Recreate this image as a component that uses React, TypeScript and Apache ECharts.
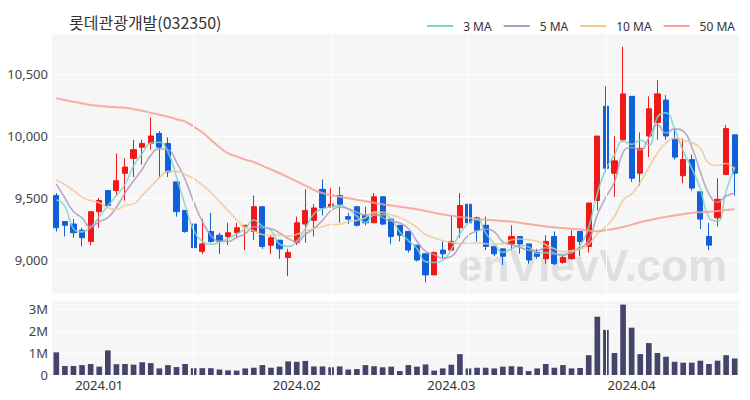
import React, { useEffect, useRef } from "react";
import * as echarts from "echarts";

const title = "롯데관광개발(032350)";
const dates = [
  "2023-12-21","2023-12-22","2023-12-26","2023-12-27","2023-12-28",
  "2024-01-02","2024-01-03","2024-01-04","2024-01-05","2024-01-08","2024-01-09","2024-01-10","2024-01-11","2024-01-12",
  "2024-01-15","2024-01-16","2024-01-17","2024-01-18","2024-01-19","2024-01-22","2024-01-23","2024-01-24","2024-01-25",
  "2024-01-26","2024-01-29","2024-01-30","2024-01-31",
  "2024-02-01","2024-02-02","2024-02-05","2024-02-06","2024-02-07","2024-02-08","2024-02-13","2024-02-14","2024-02-15",
  "2024-02-16","2024-02-19","2024-02-20","2024-02-21","2024-02-22","2024-02-23","2024-02-26","2024-02-27","2024-02-28","2024-02-29",
  "2024-03-04","2024-03-05","2024-03-06","2024-03-07","2024-03-08","2024-03-11","2024-03-12","2024-03-13","2024-03-14","2024-03-15",
  "2024-03-18","2024-03-19","2024-03-20","2024-03-21","2024-03-22","2024-03-25","2024-03-26","2024-03-27","2024-03-28","2024-03-29",
  "2024-04-01","2024-04-02","2024-04-03","2024-04-04","2024-04-05","2024-04-08","2024-04-09","2024-04-11","2024-04-12",
  "2024-04-15","2024-04-16","2024-04-17","2024-04-18","2024-04-19",
];
const labelIndices = [5, 28, 46, 67];
const vLineIndices = [16, 32, 48, 64];

const opens = [
  9520,9310,9290,9240,9150,9390,9560,9560,9700,9820,
  9910,9940,10020,9940,9630,9400,9290,9070,9230,9200,
  9190,9220,9270,9230,9430,9120,9160,9020,9140,9290,
  9320,9570,9430,9520,9350,9430,9360,9300,9510,9330,
  9280,9230,9120,9050,8880,9080,9080,9260,9450,9340,
  9280,9110,9090,9130,9190,9130,9060,9010,9190,8980,
  9010,9230,9110,9480,10240,9700,9970,10320,9700,10000,
  10110,10290,9980,9680,9810,9550,9190,9340,9690,10010,
];
const closes = [
  9260,9280,9220,9180,9390,9480,9440,9640,9750,9890,
  9940,10000,9910,9710,9390,9230,9100,9130,9150,9150,
  9220,9260,9280,9430,9110,9180,9090,9060,9300,9400,
  9420,9420,9450,9450,9330,9280,9300,9510,9290,9190,
  9200,9080,9000,8880,9060,9050,9150,9440,9300,9240,
  9110,9050,9030,9190,9130,9000,9030,9150,8970,9020,
  9190,9150,9460,10000,9740,9800,10340,9660,9900,10220,
  10340,10000,9830,9810,9580,9330,9120,9490,10060,9700,
];
const lows = [
  9230,9190,9180,9110,9120,9260,9420,9520,9480,9670,
  9770,9890,9670,9670,9350,9220,9090,9050,9140,9050,
  9120,9180,9080,9160,9090,9050,9010,8870,9120,9140,
  9190,9360,9420,9300,9290,9270,9280,9300,9280,9130,
  9150,9060,8990,8820,8880,9010,9080,9180,9280,9150,
  9080,9030,8960,9080,9050,8970,9010,8970,8960,8970,
  9000,9030,9060,9400,9710,9510,9950,9630,9600,9830,
  9970,9970,9810,9620,9560,9250,9080,9270,9690,9520,
];
const highs = [
  9540,9310,9330,9260,9390,9500,9560,9860,9820,9970,
  9970,10150,10040,9990,9630,9400,9290,9330,9380,9220,
  9300,9300,9280,9520,9430,9200,9160,9090,9350,9570,
  9450,9650,9580,9590,9380,9430,9430,9540,9510,9330,
  9280,9230,9120,9050,9070,9150,9360,9540,9450,9350,
  9350,9110,9090,9280,9190,9130,9090,9200,9230,9040,
  9240,9230,9460,10000,10400,10000,10720,10320,10030,10320,
  10450,10330,10050,9980,9850,9550,9300,9660,10090,10010,
];
// closes before the first visible day (only used for the moving averages)
const priorCloses = [9650, 9700, 9720, 9680, 9640, 9850, 9760, 9440, 9760];
const volumes = [
  1030000,410000,410000,450000,500000,380000,1120000,490000,500000,470000,
  580000,540000,300000,450000,360000,500000,310000,310000,310000,250000,
  210000,200000,300000,330000,450000,330000,380000,620000,600000,640000,
  390000,390000,350000,390000,250000,270000,450000,400000,350000,380000,
  180000,450000,380000,480000,200000,300000,470000,950000,300000,330000,
  330000,300000,380000,400000,380000,180000,300000,500000,330000,450000,
  300000,320000,900000,2650000,2050000,1000000,3200000,2150000,950000,1450000,
  1000000,830000,600000,560000,560000,650000,500000,650000,900000,750000,
];
const ma50 = [
  10304,10290,10277,10263,10250,10243,10236,10232,10228,10216,
  10204,10188,10172,10156,10136,10116,10075,10030,9970,9910,
  9860,9835,9810,9790,9760,9730,9700,9668,9635,9600,
  9565,9540,9524,9510,9498,9486,9474,9462,9450,9440,
  9430,9420,9410,9396,9382,9368,9357,9348,9340,9330,
  9325,9320,9315,9310,9300,9290,9280,9270,9264,9258,
  9252,9246,9238,9232,9240,9252,9266,9285,9305,9320,
  9335,9348,9360,9370,9380,9386,9390,9396,9403,9409,
];

const maNames = ["3 MA", "5 MA", "10 MA", "50 MA"];
const maColors = ["#7fd5c6", "#ab9bc0", "#f0c890", "#f6a193"];
const upColor = "#f01818";
const downColor = "#1060dc";
const volColor = "#45456c";
const plotBg = "#f6f6f6";
const font = "'Noto Sans', 'Noto Sans CJK KR', sans-serif";
// legend line icon: a 26x2 bar plus an empty gap on its right
const legendIcon = "path://M0,0H26V2H0Z M31,0L31,2";

function movingAverage(n: number): number[] {
  const all = [...priorCloses, ...closes];
  const off = priorCloses.length;
  return closes.map((_, i) => {
    let s = 0;
    for (let k = 0; k < n; k++) s += all[off + i - k];
    return Math.round(s / n);
  });
}

export default function App() {
  const ref = useRef<HTMLDivElement>(null);
  useEffect(() => {
    if (!ref.current) return;
    const chart = echarts.init(ref.current, null, { renderer: "svg" });
    const candleData = opens.map((o, i) => [o, closes[i], lows[i], highs[i]]);
    const maData = [movingAverage(3), movingAverage(5), movingAverage(10), ma50];
    const vLines = vLineIndices.map((i) => ({ xAxis: dates[i] }));
    const markLineStyle = {
      silent: true,
      symbol: "none",
      label: { show: false },
      lineStyle: { color: "#ffffff", width: 1, type: "solid" as const },
      data: vLines,
    };
    chart.setOption({
      animation: false,
      backgroundColor: "#ffffff",
      title: {
        text: title,
        left: 64,
        top: 9,
        textStyle: { fontSize: 16, fontWeight: "normal", color: "#333", fontFamily: "'Noto Sans CJK KR', sans-serif" },
      },
      legend: {
        data: maNames,
        right: 10,
        top: 15,
        itemWidth: 31,
        itemHeight: 2,
        itemGap: 12,
        icon: legendIcon,
        textStyle: { fontSize: 12, color: "#333", fontFamily: font },
      },
      graphic: [
        {
          type: "text",
          left: 458,
          top: 243,
          z: 1,
          silent: true,
          style: {
            text: "enVievV.com",
            fontSize: 44,
            fontWeight: "bold",
            fontFamily: "'Liberation Sans', Arial, sans-serif",
            fill: "rgba(195,195,195,0.45)",
          },
        },
      ],
      grid: [
        { left: 52, right: 11, top: 33, height: 261, show: true, backgroundColor: plotBg, borderWidth: 0 },
        { left: 52, right: 11, top: 300, height: 75, show: true, backgroundColor: plotBg, borderWidth: 0 },
      ],
      xAxis: [
        {
          type: "category",
          data: dates,
          gridIndex: 0,
          boundaryGap: true,
          axisLine: { show: false },
          axisTick: { show: false },
          axisLabel: { show: false },
          splitLine: { show: false },
        },
        {
          type: "category",
          data: dates,
          gridIndex: 1,
          boundaryGap: true,
          axisLine: { show: false },
          axisTick: { show: false },
          splitLine: { show: false },
          axisLabel: {
            interval: (idx: number) => labelIndices.includes(idx),
            formatter: (v: string) => v.slice(0, 7).replace("-", "."),
            fontSize: 13,
            color: "#333",
            fontFamily: font,
            margin: 3,
          },
        },
      ],
      yAxis: [
        {
          type: "value",
          gridIndex: 0,
          min: 8726,
          max: 10831,
          splitNumber: 4,
          axisLine: { show: false },
          axisTick: { show: false },
          axisLabel: { fontSize: 13, color: "#444", fontFamily: font, margin: 4, showMinLabel: false, showMaxLabel: false },
          splitLine: { lineStyle: { color: "#ffffff", width: 1 } },
        },
        {
          type: "value",
          gridIndex: 1,
          min: 0,
          max: 3409000,
          splitNumber: 3,
          axisLine: { show: false },
          axisTick: { show: false },
          axisLabel: {
            fontSize: 13,
            color: "#444",
            fontFamily: font,
            margin: 4,
            showMaxLabel: false,
            formatter: (v: number) => (v === 0 ? "0" : `${Math.round(v / 1e6)}M`),
          },
          splitLine: { lineStyle: { color: "#ffffff", width: 1 } },
        },
      ],
      series: [
        {
          name: "vgrid0",
          type: "line",
          xAxisIndex: 0,
          yAxisIndex: 0,
          data: [],
          z: 1,
          silent: true,
          markLine: markLineStyle,
        },
        {
          name: "vgrid1",
          type: "line",
          xAxisIndex: 1,
          yAxisIndex: 1,
          data: [],
          z: 1,
          silent: true,
          markLine: markLineStyle,
        },
        {
          name: "price",
          type: "candlestick",
          xAxisIndex: 0,
          yAxisIndex: 0,
          data: candleData,
          barWidth: "66%",
          z: 3,
          itemStyle: {
            color: upColor,
            color0: downColor,
            borderColor: upColor,
            borderColor0: downColor,
            borderWidth: 1,
          },
        },
        ...maNames.map((name, k) => ({
          name,
          type: "line",
          xAxisIndex: 0,
          yAxisIndex: 0,
          data: maData[k],
          smooth: true,
          showSymbol: false,
          symbol: "none",
          z: 4,
          color: maColors[k],
          lineStyle: { color: maColors[k], width: k === 3 ? 2 : 1.6, opacity: 0.85 },
        })),
        {
          name: "volume",
          type: "bar",
          xAxisIndex: 1,
          yAxisIndex: 1,
          data: volumes,
          barWidth: "66%",
          z: 3,
          itemStyle: { color: volColor },
        },
      ],
    });
    return () => chart.dispose();
  }, []);
  return <div ref={ref} style={{ position: "fixed", left: 0, top: 0, width: 750, height: 400 }} />;
}
